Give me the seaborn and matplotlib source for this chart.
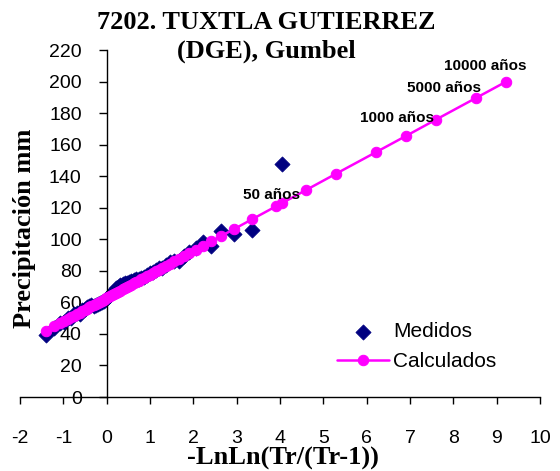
import matplotlib
matplotlib.use("Agg")
import matplotlib.pyplot as plt
import seaborn as sns
import pandas as pd

# ---- data ----
obs_x = [-1.401, -1.214, -1.086, -0.984, -0.897, -0.819, -0.749, -0.684, -0.622, -0.564,
         -0.508, -0.455, -0.402, -0.352, -0.302, -0.253, -0.205, -0.157, -0.110, -0.063,
         -0.016, 0.031, 0.078, 0.125, 0.172, 0.220, 0.268, 0.317, 0.367, 0.417,
         0.468, 0.520, 0.573, 0.627, 0.683, 0.740, 0.800, 0.861, 0.924, 0.990,
         1.059, 1.131, 1.207, 1.287, 1.372, 1.462, 1.559, 1.665, 1.780, 1.908,
         2.051, 2.215, 2.406, 2.638, 2.936, 3.350, 4.052]
obs_y = [39.5, 44.0, 47.0, 47.5, 50.0, 50.0, 52.5, 53.0, 52.5, 55.0,
         56.0, 57.0, 58.0, 58.5, 58.0, 58.5, 59.0, 59.5, 60.0, 61.0,
         62.0, 63.5, 64.5, 66.0, 67.5, 69.0, 70.0, 71.0, 71.5, 72.0,
         72.5, 73.0, 73.5, 74.0, 74.5, 75.0, 75.5, 76.0, 77.5, 78.5,
         79.0, 80.5, 81.5, 82.0, 84.0, 85.5, 86.0, 86.5, 89.5, 92.0,
         94.5, 98.0, 95.5, 105.5, 103.5, 106.0, 148.0]

calc_x = obs_x + [3.902, 4.600, 5.296, 6.214, 6.907, 7.601, 8.517, 9.210]
calc_y = [41.9, 44.7, 46.6, 48.1, 49.4, 50.6, 51.6, 52.6, 53.5, 54.4,
          55.2, 56.0, 56.8, 57.5, 58.3, 59.0, 59.7, 60.4, 61.1, 61.8,
          62.5, 63.2, 63.9, 64.6, 65.3, 66.0, 66.7, 67.5, 68.2, 69.0,
          69.7, 70.5, 71.3, 72.1, 72.9, 73.8, 74.7, 75.6, 76.5, 77.5,
          78.5, 79.6, 80.7, 81.9, 83.2, 84.5, 86.0, 87.5, 89.2, 91.1,
          93.3, 95.7, 98.6, 102.0, 106.4, 112.6, 123.0,
          120.8, 131.2, 141.6, 155.2, 165.5, 175.9, 189.5, 199.8]

label_text = ["50 años", "1000 años", "5000 años", "10000 años"]
label_x = [3.81, 6.70, 7.78, 8.73]
label_y = [128.1, 176.8, 195.8, 209.7]

x_ticks = list(range(-2, 11))
y_ticks = list(range(0, 221, 20))

title_lines = "7202. TUXTLA GUTIERREZ\n(DGE), Gumbel"
x_label = "-LnLn(Tr/(Tr-1))"
y_label = "Precipitación mm"

# ---- plotting ----
sns.set_style("white")
plt.rcParams["font.family"] = ["Liberation Sans", "DejaVu Sans"]
plt.rcParams["axes.unicode_minus"] = False
plt.rcParams["text.color"] = "black"
plt.rcParams["xtick.color"] = "black"
plt.rcParams["ytick.color"] = "black"
plt.rcParams["xtick.labelcolor"] = "black"
plt.rcParams["ytick.labelcolor"] = "black"

fig = plt.figure(figsize=(5.6, 4.71), dpi=100)
ax = fig.add_axes([20 / 560, (471 - 397) / 471, 520 / 560, 347 / 471])

obs_df = pd.DataFrame({"x": obs_x, "y": obs_y})
calc_df = pd.DataFrame({"x": calc_x, "y": calc_y})

sns.scatterplot(data=obs_df, x="x", y="y", ax=ax, marker="D", s=60,
                color="#000080", edgecolor="#000080", linewidth=0.5,
                label="Medidos", zorder=2)
sns.lineplot(data=calc_df, x="x", y="y", ax=ax, color="#FF00FF",
             linewidth=1.8, marker="o", markersize=7.5,
             markeredgecolor="#FF00FF", label="Calculados", zorder=3,
             sort=True, estimator=None)

ax.set_xlim(-2, 10)
ax.set_ylim(0, 220)
ax.set_xticks(x_ticks)
ax.set_yticks(y_ticks)
ax.spines["top"].set_visible(False)
ax.spines["right"].set_visible(False)
ax.spines["left"].set_position(("data", 0))
for s in ("left", "bottom"):
    ax.spines[s].set_color("black")
    ax.spines[s].set_linewidth(1.0)
ax.tick_params(axis="y", direction="out", length=6, width=1, color="black",
               labelcolor="black", labelsize=14, pad=12, left=True)
ax.tick_params(axis="x", direction="out", length=5, width=1, color="black",
               labelcolor="black", labelsize=14, pad=19, bottom=True)
ax.grid(False)
ax.set_xlabel("")
ax.set_ylabel("")

for t, xx, yy in zip(label_text, label_x, label_y):
    ax.text(xx, yy, t, ha="center", va="center", fontsize=11, fontweight="bold",
            color="black",
            family=["Liberation Sans Narrow", "Liberation Sans"], zorder=5)

serif = ["Liberation Serif", "DejaVu Serif"]
fig.text(266 / 560, 1 - 37 / 471, title_lines, ha="center", va="center",
         fontsize=19, fontweight="bold", family=serif, linespacing=1.3,
         color="black")
fig.text(283 / 560, 1 - 458 / 471, x_label, ha="center", va="center",
         fontsize=19, fontweight="bold", family=serif, color="black")
fig.text(25 / 560, 1 - 228 / 471, y_label, ha="center", va="center",
         rotation=90, fontsize=19, fontweight="bold", family=serif,
         color="black")

leg = ax.legend(loc="upper left", bbox_to_anchor=(337 / 560, 1 - 322 / 471),
                bbox_transform=fig.transFigure, frameon=False, fontsize=15,
                borderpad=0, borderaxespad=0, handlelength=2.5,
                handletextpad=0.2, labelspacing=0.55)
for txt in leg.get_texts():
    txt.set_color("black")

fig.savefig("out.png", dpi=100)
